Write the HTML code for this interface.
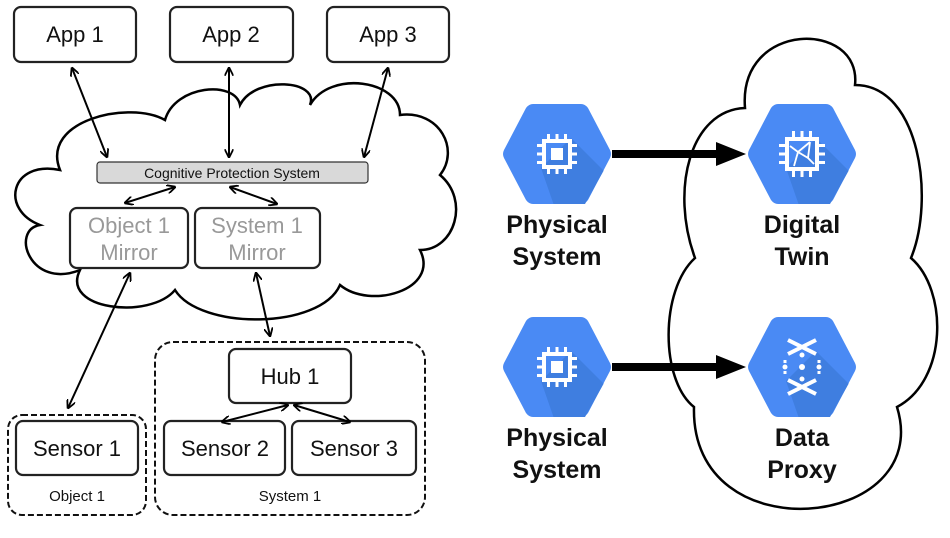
<!DOCTYPE html>
<html><head><meta charset="utf-8"><style>
html,body{margin:0;padding:0;background:#fff;}
svg{display:block;}
.t{font-family:"Liberation Sans",sans-serif;}
.b{font-family:"Liberation Sans",sans-serif;font-weight:bold;}
</style></head><body>
<svg width="950" height="538" viewBox="0 0 950 538" xmlns="http://www.w3.org/2000/svg">
<defs>
<marker id="a" viewBox="0 0 10 10" refX="9" refY="5" markerWidth="9" markerHeight="9" orient="auto-start-reverse" markerUnits="userSpaceOnUse">
<path d="M0,0 L10,5 L0,10" fill="none" stroke="#000" stroke-width="2"/>
</marker>
<clipPath id="hx"><polygon points="-56,0 -28,-50 28,-50 56,0 28,50 -28,50"/></clipPath>
<g id="hex">
<path d="M-53,-4 L-31,-46 Q-28,-50 -24,-50 L24,-50 Q28,-50 31,-46 L53,-4 Q55,0 53,4 L31,46 Q28,50 24,50 L-24,50 Q-28,50 -31,46 L-53,4 Q-55,0 -53,-4Z" fill="#4a8af4"/>
<polygon clip-path="url(#hx)" points="14,-16 60,30 60,60 0,60 -16,14" fill="#3f7ee0"/>
</g>
<g id="chip" fill="#fff">
<rect x="-13" y="-13" width="26" height="26" fill="none" stroke="#fff" stroke-width="4"/>
<rect x="-6" y="-6" width="12" height="12"/>
<rect x="-10" y="-20" width="3" height="6"/><rect x="-1.5" y="-20" width="3" height="6"/><rect x="7" y="-20" width="3" height="6"/>
<rect x="-10" y="14" width="3" height="6"/><rect x="-1.5" y="14" width="3" height="6"/><rect x="7" y="14" width="3" height="6"/>
<rect x="-20" y="-10" width="6" height="3"/><rect x="-20" y="-1.5" width="6" height="3"/><rect x="-20" y="7" width="6" height="3"/>
<rect x="14" y="-10" width="6" height="3"/><rect x="14" y="-1.5" width="6" height="3"/><rect x="14" y="7" width="6" height="3"/>
</g>
</defs>

<!-- LEFT -->
<path d="M60,170 C40,120 130,100 165,120 C175,85 235,80 240,105 C255,75 320,80 310,105 C330,70 400,80 400,115 C440,110 460,150 440,175 C470,200 455,250 420,250 C440,290 370,310 340,285 C320,330 200,330 175,290 C150,320 60,310 80,270 C30,290 10,230 40,225 C0,210 10,160 60,170 Z" fill="#fff" stroke="#000" stroke-width="2.5"/>

<g fill="#fff" stroke="#222" stroke-width="2.2">
<rect x="14" y="7" width="122" height="55" rx="7"/>
<rect x="170" y="7" width="123" height="55" rx="7"/>
<rect x="327" y="7" width="122" height="55" rx="7"/>
<rect x="70" y="208" width="118" height="60" rx="7"/>
<rect x="195" y="208" width="125" height="60" rx="7"/>
<rect x="229" y="349" width="122" height="54" rx="7"/>
<rect x="16" y="421" width="122" height="54" rx="7"/>
<rect x="164" y="421" width="121" height="54" rx="7"/>
<rect x="292" y="421" width="124" height="54" rx="7"/>
</g>
<rect x="97" y="162" width="271" height="21" rx="3" fill="#d9d9d9" stroke="#333" stroke-width="1.2"/>
<g fill="none" stroke="#111" stroke-width="2" stroke-dasharray="6,3">
<rect x="8" y="415" width="138" height="100" rx="14"/>
<rect x="155" y="342" width="270" height="173" rx="18"/>
</g>

<g class="t" text-anchor="middle" font-size="22" fill="#111">
<text x="75" y="42">App 1</text>
<text x="231" y="42">App 2</text>
<text x="388" y="42">App 3</text>
<text x="290" y="384">Hub 1</text>
<text x="77" y="456">Sensor 1</text>
<text x="225" y="456">Sensor 2</text>
<text x="354" y="456">Sensor 3</text>
<text x="232" y="178" font-size="14">Cognitive Protection System</text>
<text x="77" y="501" font-size="15">Object 1</text>
<text x="290" y="501" font-size="15">System 1</text>
<g fill="#999">
<text x="129" y="233">Object 1</text><text x="129" y="260">Mirror</text>
<text x="257" y="233">System 1</text><text x="257" y="260">Mirror</text>
</g>
</g>

<g stroke="#000" stroke-width="2" marker-start="url(#a)" marker-end="url(#a)" fill="none">
<line x1="72" y1="68" x2="107" y2="157"/>
<line x1="229" y1="68" x2="229" y2="157"/>
<line x1="388" y1="68" x2="364" y2="157"/>
<line x1="175" y1="187" x2="125" y2="203"/>
<line x1="230" y1="187" x2="277" y2="204"/>
<line x1="130" y1="273" x2="68" y2="408"/>
<line x1="256" y1="273" x2="270" y2="336"/>
<line x1="288" y1="405" x2="222" y2="422"/>
<line x1="294" y1="405" x2="350" y2="422"/>
</g>

<!-- RIGHT -->
<path d="M745,108 C738,20 862,20 855,85 C920,85 935,200 911,258 C948,290 948,380 897,407 C935,530 690,555 694,407 C660,380 660,290 695,258 C670,190 690,110 745,108 Z" fill="#fff" stroke="#000" stroke-width="2.5"/>

<g stroke="#000" stroke-width="8">
<line x1="612" y1="154" x2="718" y2="154"/>
<line x1="612" y1="367" x2="718" y2="367"/>
</g>
<polygon points="716,142 746,154 716,166" fill="#000"/>
<polygon points="716,355 746,367 716,379" fill="#000"/>

<use href="#hex" x="557" y="154"/>
<use href="#chip" x="557" y="154"/>
<use href="#hex" x="557" y="367"/>
<use href="#chip" x="557" y="367"/>
<use href="#hex" x="802" y="154"/>
<use href="#hex" x="802" y="367"/>
<g transform="translate(802,154)" fill="#fff">
<rect x="-15" y="-15" width="30" height="30" fill="none" stroke="#fff" stroke-width="4"/>
<rect x="-10" y="-23" width="3" height="7"/><rect x="-1.5" y="-23" width="3" height="7"/><rect x="7" y="-23" width="3" height="7"/>
<rect x="-10" y="16" width="3" height="7"/><rect x="-1.5" y="16" width="3" height="7"/><rect x="7" y="16" width="3" height="7"/>
<rect x="-23" y="-10" width="7" height="3"/><rect x="-23" y="-1.5" width="7" height="3"/><rect x="-23" y="7" width="7" height="3"/>
<rect x="16" y="-10" width="7" height="3"/><rect x="16" y="-1.5" width="7" height="3"/><rect x="16" y="7" width="7" height="3"/>
<path d="M-12,-8 L-4,-2 L8,-12 M-4,-2 L-8,12 M-4,-2 L6,4 L12,10 M6,4 L8,-12" stroke="#fff" stroke-width="1.8" fill="none"/>
</g>
<g transform="translate(802,367)" fill="#fff" stroke="#fff">
<path d="M-14,-27 L14,-13 M14,-27 L-14,-13 M-14,27 L14,13 M14,27 L-14,13" stroke-width="4"/>
<circle cx="0" cy="-12" r="2.5" stroke="none"/><circle cx="0" cy="0" r="3" stroke="none"/><circle cx="0" cy="12" r="2.5" stroke="none"/>
<circle cx="-17" cy="0" r="2.5" stroke="none"/><circle cx="17" cy="0" r="2.5" stroke="none"/>
<path d="M-17,-7 L-17,-4 M17,-7 L17,-4 M-17,4 L-17,7 M17,4 L17,7" stroke-width="3"/>
</g>

<g class="b" text-anchor="middle" font-size="25" fill="#111">
<text x="557" y="233">Physical</text><text x="557" y="265">System</text>
<text x="557" y="446">Physical</text><text x="557" y="478">System</text>
<text x="802" y="233">Digital</text><text x="802" y="265">Twin</text>
<text x="802" y="446">Data</text><text x="802" y="478">Proxy</text>
</g>
</svg>
</body></html>
